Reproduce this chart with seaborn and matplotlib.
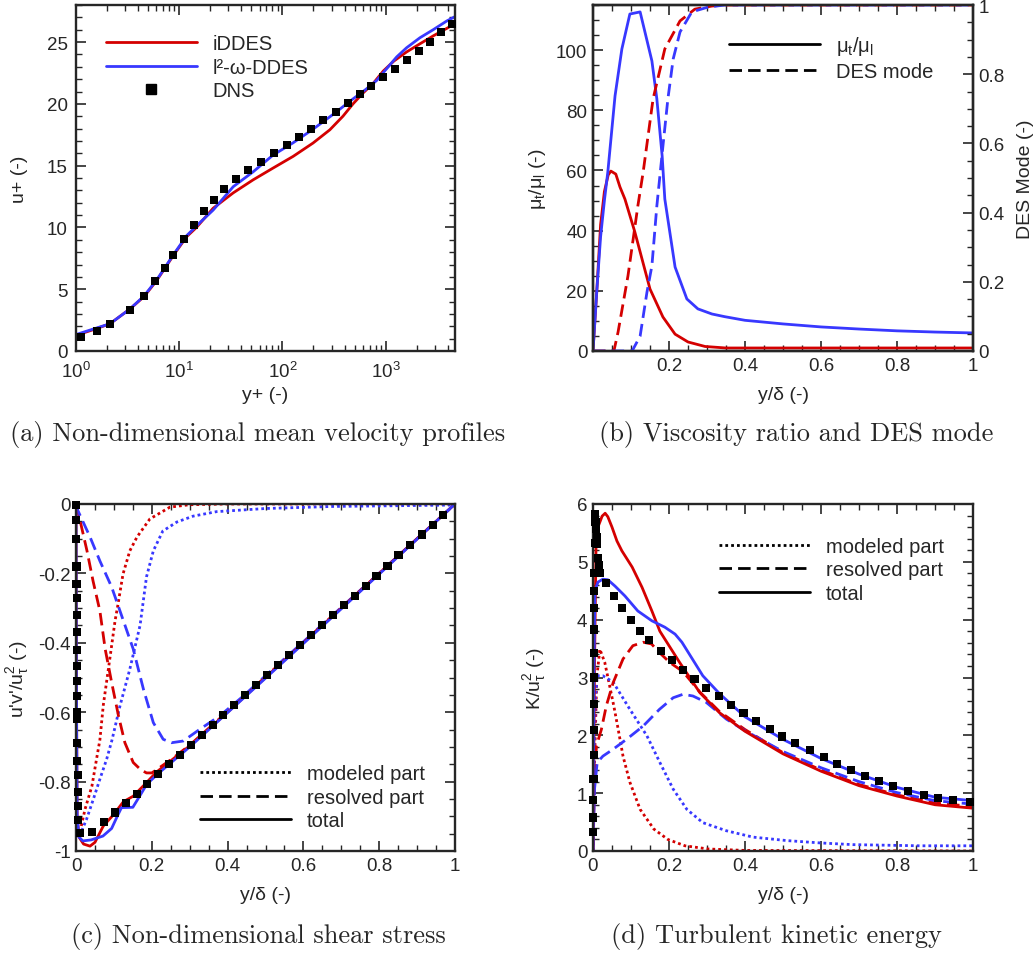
import seaborn as sns
import matplotlib
matplotlib.use('Agg')
import matplotlib.pyplot as plt
from matplotlib.lines import Line2D
from matplotlib.ticker import MultipleLocator, FuncFormatter, LogLocator

# ---------------- data ----------------
# (a) mean velocity profiles
a_dns_yp = [1.11, 1.59, 2.13, 3.33, 4.56, 5.78, 7.23, 8.7, 11.1, 13.9, 17.4, 21.7, 27.1, 35.5, 46.4, 62,
            82.8, 110, 145, 189, 245, 330, 431, 564, 715, 935, 1222, 1596, 2086, 2685, 3407, 4387]
a_dns_up = [1.11, 1.62, 2.16, 3.33, 4.44, 5.65, 6.71, 7.74, 9.06, 10.17, 11.34, 12.2, 13.1, 13.9, 14.64, 15.29,
            16.02, 16.69, 17.34, 17.97, 18.7, 19.35, 20.08, 20.81, 21.46, 22.19, 22.84, 23.57, 24.3, 25.03, 25.84, 26.49]
a_iddes_yp = [1.0, 1.5, 2.13, 3.33, 4.56, 6.05, 8.8, 11.8, 14.7, 21.3, 33.4, 52, 81, 127, 198, 288, 386, 483,
              608, 760, 947, 1200, 1596, 2150, 2890, 3900, 4700]
a_iddes_up = [1.27, 1.75, 2.2, 3.4, 4.4, 5.7, 7.75, 9.25, 10.0, 11.55, 12.8, 13.85, 14.8, 15.75, 16.83, 17.9, 19.0, 20.0,
              20.9, 21.67, 22.65, 23.46, 24.2, 24.86, 25.5, 26.1, 26.5]
a_l2w_yp = [1.0, 1.5, 2.13, 3.33, 4.56, 6.05, 8.8, 11.8, 15.9, 21.3, 33.4, 52, 81, 127, 198, 310, 483, 650,
            820, 1000, 1280, 1596, 2150, 2890, 3900, 4700]
a_l2w_up = [1.33, 1.8, 2.2, 3.4, 4.45, 5.75, 7.8, 9.33, 10.4, 11.4, 13.3, 14.5, 15.85, 16.85, 17.95, 19.15, 20.4, 21.2,
            21.9, 22.75, 23.8, 24.54, 25.35, 26.0, 26.7, 27.06]

# (b) viscosity ratio and DES mode
b_iddes_y = [0.0, 0.01, 0.02, 0.03, 0.04, 0.047, 0.06, 0.071, 0.084, 0.11, 0.15, 0.184, 0.216, 0.25, 0.295, 0.35, 0.6, 1.0]
b_iddes_mu = [0.0, 20, 42, 53, 58.5, 59.8, 58.8, 54.5, 50.5, 39.6, 20.6, 11.3, 5.6, 3.0, 1.5, 1.0, 1.0, 1.0]
b_l2w_y = [0.0, 0.01, 0.02, 0.03, 0.039, 0.058, 0.076, 0.097, 0.124, 0.155, 0.168, 0.182, 0.189, 0.216, 0.247,
           0.276, 0.313, 0.347, 0.4, 0.5, 0.6, 0.7, 0.8, 0.9, 1.0]
b_l2w_mu = [0.0, 20, 38, 50, 59.5, 84.8, 100.4, 112.0, 112.7, 96.4, 83.8, 64.8, 50.5, 27.9, 17.3,
            14.0, 12.3, 11.4, 10.2, 9.0, 8.0, 7.3, 6.7, 6.3, 6.0]
b_iddes_des_y = [0.0, 0.055, 0.066, 0.092, 0.118, 0.132, 0.158, 0.189, 0.229, 0.268, 0.313, 0.35, 1.0]
b_iddes_des = [0.0, 0.0, 0.055, 0.217, 0.419, 0.517, 0.728, 0.873, 0.954, 0.988, 0.997, 1.0, 1.0]
b_l2w_des_y = [0.0, 0.103, 0.124, 0.142, 0.155, 0.168, 0.184, 0.197, 0.211, 0.229, 0.26, 0.303, 0.347, 1.0]
b_l2w_des = [0.0, 0.0, 0.043, 0.17, 0.246, 0.419, 0.592, 0.728, 0.844, 0.922, 0.98, 0.994, 1.0, 1.0]

# (c) shear stress
c_dns_y = [0.0003, 0.0006, 0.0009, 0.0012, 0.0014, 0.0016, 0.0018, 0.002, 0.0022, 0.0024, 0.0026, 0.0028,
           0.003, 0.0032, 0.0035, 0.0038, 0.0042, 0.0046, 0.0052, 0.006, 0.011, 0.042, 0.075, 0.103, 0.132,
           0.16, 0.187, 0.216, 0.246, 0.274, 0.303, 0.332, 0.361, 0.389, 0.418, 0.447, 0.475, 0.504, 0.533,
           0.561, 0.59, 0.62, 0.649, 0.677, 0.706, 0.735, 0.764, 0.793, 0.822, 0.851, 0.881, 0.912, 0.941, 0.969]
c_dns_uv = [-0.003, -0.046, -0.1, -0.18, -0.23, -0.27, -0.32, -0.37, -0.42, -0.466, -0.51, -0.553,
            -0.6, -0.62, -0.69, -0.74, -0.78, -0.83, -0.87, -0.91, -0.947, -0.945, -0.916, -0.889, -0.862,
            -0.835, -0.807, -0.779, -0.75, -0.723, -0.695, -0.666, -0.638, -0.609, -0.58, -0.551, -0.522, -0.492, -0.464,
            -0.436, -0.407, -0.378, -0.35, -0.32, -0.291, -0.264, -0.236, -0.207, -0.178, -0.146, -0.118, -0.088, -0.06, -0.031]
c_iddes_tot_y = [0.0, 0.001, 0.003, 0.008, 0.02, 0.037, 0.05, 0.072, 0.1, 0.125, 0.151, 0.178, 0.213, 0.3,
                 0.4, 0.5, 0.6, 0.7, 0.8, 0.9, 1.0]
c_iddes_tot = [0.0, -0.5, -0.9, -0.96, -0.98, -0.986, -0.975, -0.928, -0.894, -0.858, -0.842, -0.812, -0.772, -0.697,
               -0.6, -0.5, -0.4, -0.3, -0.2, -0.1, 0.0]
c_l2w_tot_y = [0.0, 0.001, 0.003, 0.008, 0.018, 0.04, 0.071, 0.094, 0.111, 0.12, 0.15, 0.169, 0.187, 0.222, 0.3,
               0.4, 0.5, 0.6, 0.7, 0.8, 0.9, 1.0]
c_l2w_tot = [0.0, -0.5, -0.9, -0.96, -0.971, -0.968, -0.957, -0.935, -0.895, -0.875, -0.874, -0.84, -0.807, -0.772, -0.7,
             -0.601, -0.502, -0.402, -0.302, -0.202, -0.101, 0.0]
c_iddes_res_y = [0.0, 0.011, 0.029, 0.045, 0.063, 0.077, 0.094, 0.112, 0.129, 0.151, 0.17, 0.186, 0.2, 0.22, 0.25,
                 0.3, 0.4, 0.5, 0.6, 0.7, 0.8, 0.9, 1.0]
c_iddes_res = [0.0, -0.049, -0.135, -0.222, -0.308, -0.418, -0.514, -0.61, -0.688, -0.745, -0.765, -0.775, -0.775, -0.76,
               -0.737, -0.695, -0.598, -0.498, -0.399, -0.299, -0.2, -0.1, 0.0]
c_l2w_res_y = [0.0, 0.005, 0.037, 0.063, 0.094, 0.116, 0.151, 0.178, 0.204, 0.23, 0.252, 0.283, 0.327, 0.38, 0.442,
               0.5, 0.6, 0.7, 0.8, 0.9, 1.0]
c_l2w_res = [0.0, -0.019, -0.095, -0.164, -0.239, -0.308, -0.418, -0.534, -0.63, -0.678, -0.688, -0.683, -0.649, -0.61,
             -0.553, -0.495, -0.397, -0.298, -0.199, -0.1, 0.0]
c_iddes_mod_y = [0.005, 0.011, 0.024, 0.042, 0.055, 0.063, 0.072, 0.09, 0.103, 0.111, 0.124, 0.142, 0.161, 0.195,
                 0.248, 0.3, 0.4, 1.0]
c_iddes_mod = [-0.96, -0.942, -0.879, -0.813, -0.73, -0.68, -0.58, -0.44, -0.337, -0.288, -0.202, -0.135, -0.095, -0.043,
               -0.009, -0.002, 0.0, 0.0]
c_l2w_mod_y = [0.006, 0.015, 0.028, 0.046, 0.063, 0.081, 0.095, 0.116, 0.142, 0.169, 0.186, 0.204, 0.229, 0.266,
               0.309, 0.371, 0.5, 0.68, 1.0]
c_l2w_mod = [-0.955, -0.942, -0.908, -0.85, -0.793, -0.735, -0.68, -0.582, -0.476, -0.35, -0.21, -0.135, -0.078, -0.052,
             -0.035, -0.022, -0.013, -0.007, -0.003]

# (d) turbulent kinetic energy
d_dns_y = [0.0003, 0.0006, 0.0009, 0.0012, 0.0015, 0.0018, 0.0021, 0.0024, 0.0027, 0.003, 0.0033, 0.0036, 0.004,
           0.0045, 0.005, 0.0065, 0.008, 0.0095, 0.011, 0.013, 0.016, 0.018, 0.034, 0.055, 0.076, 0.1, 0.124,
           0.147, 0.178, 0.207, 0.236, 0.267, 0.298, 0.331, 0.362, 0.396, 0.43, 0.465, 0.498, 0.532, 0.57, 0.607,
           0.643, 0.678, 0.715, 0.752, 0.79, 0.83, 0.87, 0.909, 0.947, 0.991]
d_dns_k = [0.33, 0.58, 0.88, 1.24, 1.66, 2.09, 2.54, 3.0, 3.42, 3.83, 4.2, 4.5, 4.8, 5.32, 5.83, 5.69, 5.57, 5.43,
           5.31, 5.07, 4.94, 4.81, 4.63, 4.41, 4.2, 3.99, 3.8, 3.65, 3.46, 3.3, 3.13, 2.97, 2.82, 2.68, 2.53,
           2.39, 2.25, 2.11, 1.98, 1.86, 1.74, 1.63, 1.5, 1.4, 1.3, 1.21, 1.13, 1.04, 0.97, 0.92, 0.88, 0.85]
d_iddes_tot_y = [0.0, 0.002, 0.004, 0.008, 0.013, 0.024, 0.032, 0.039, 0.05, 0.063, 0.076, 0.103, 0.129, 0.155,
                 0.176, 0.228, 0.281, 0.333, 0.4, 0.5, 0.6, 0.7, 0.8, 0.9, 1.0]
d_iddes_tot = [0.0, 1.5, 3.2, 5.31, 5.6, 5.79, 5.84, 5.78, 5.6, 5.36, 5.19, 4.91, 4.56, 4.15,
               3.8, 3.26, 2.74, 2.39, 2.07, 1.68, 1.38, 1.13, 0.95, 0.8, 0.74]
d_l2w_tot_y = [0.0, 0.002, 0.005, 0.013, 0.026, 0.039, 0.058, 0.084, 0.118, 0.155, 0.189, 0.216, 0.234, 0.289,
               0.333, 0.4, 0.5, 0.6, 0.7, 0.8, 0.9, 1.0]
d_l2w_tot = [0.0, 2.8, 4.5, 4.65, 4.7, 4.69, 4.58, 4.41, 4.15, 3.98, 3.87, 3.75, 3.61, 3.03,
             2.72, 2.32, 1.93, 1.6, 1.33, 1.1, 0.93, 0.87]
d_iddes_res_y = [0.0, 0.003, 0.009, 0.022, 0.035, 0.053, 0.079, 0.105, 0.132, 0.154, 0.175, 0.202, 0.237, 0.281,
                 0.333, 0.4, 0.5, 0.6, 0.7, 0.8, 0.9, 1.0]
d_iddes_res = [0.0, 1.0, 1.82, 2.1, 2.51, 2.91, 3.32, 3.55, 3.61, 3.58, 3.43, 3.26, 3.1, 2.75,
               2.41, 2.1, 1.7, 1.4, 1.15, 0.97, 0.83, 0.77]
d_l2w_res_y = [0.0, 0.004, 0.011, 0.026, 0.053, 0.088, 0.132, 0.175, 0.211, 0.237, 0.263, 0.298, 0.351, 0.4,
               0.5, 0.6, 0.7, 0.8, 0.9, 1.0]
d_l2w_res = [0.0, 1.07, 1.53, 1.64, 1.76, 1.93, 2.16, 2.45, 2.65, 2.71, 2.68, 2.57, 2.28, 2.08,
             1.72, 1.44, 1.2, 1.01, 0.87, 0.81]
d_iddes_mod_y = [0.0, 0.004, 0.01, 0.018, 0.031, 0.044, 0.055, 0.065, 0.079, 0.097, 0.124, 0.16, 0.197, 0.242,
                 0.303, 0.4, 1.0]
d_iddes_mod = [0.0, 1.5, 3.0, 3.49, 3.26, 2.85, 2.5, 2.15, 1.64, 1.19, 0.72, 0.38, 0.2, 0.09,
               0.035, 0.01, 0.0]
d_l2w_mod_y = [0.0, 0.003, 0.006, 0.011, 0.026, 0.053, 0.097, 0.142, 0.176, 0.211, 0.247, 0.289, 0.351, 0.421,
               0.51, 0.597, 0.684, 0.86, 1.0]
d_l2w_mod = [0.0, 1.5, 2.6, 3.03, 3.03, 2.92, 2.45, 1.99, 1.53, 1.07, 0.72, 0.49, 0.35, 0.24,
             0.18, 0.14, 0.11, 0.09, 0.09]

# ---------------- style ----------------
RED = '#d40000'
BLUE = '#3838ff'
LW = 2.0
DOT = (0, (1, 1.1))
DASH = (0, (4.5, 2.2))

sns.set_style('ticks')
plt.rcParams['font.family'] = ['Liberation Sans', 'DejaVu Sans']
plt.rcParams['mathtext.fontset'] = 'custom'
plt.rcParams['mathtext.rm'] = 'Liberation Sans'
plt.rcParams['mathtext.it'] = 'Liberation Sans'
plt.rcParams['mathtext.default'] = 'regular'
plt.rcParams['axes.unicode_minus'] = False

TICK_FS = 13.5
LABEL_FS = 14
LEG_FS = 14.5


def plain(v, pos):
    v = round(v, 6)
    if v == 0:
        return '0'
    return '%g' % v


def style_axes(ax, right=True):
    for s in ax.spines.values():
        s.set_linewidth(1.7)
    ax.tick_params(which='both', direction='in', top=True, right=right, labelsize=TICK_FS, pad=4)
    ax.tick_params(which='major', length=7, width=1.2)
    ax.tick_params(which='minor', length=4, width=1.0)


def line(ax, x, y, color, ls='-'):
    sns.lineplot(x=x, y=y, ax=ax, color=color, linewidth=LW, linestyle=ls,
                 estimator=None, sort=False, legend=False)


def dns(ax, x, y):
    sns.scatterplot(x=x, y=y, ax=ax, marker='s', s=34, color='k', edgecolor='none',
                    linewidth=0, legend=False, zorder=5, clip_on=False)


def labels(ax, xl, yl):
    ax.set_xlabel(xl, fontsize=LABEL_FS)
    ax.set_ylabel(yl, fontsize=LABEL_FS)
    ax.xaxis.set_label_coords(0.5, -35 / 346)
    ax.yaxis.set_label_coords(-45 / 379, 0.5)


def legend(ax, handles, names, x, y):
    ax.legend(handles, names, loc='upper left', bbox_to_anchor=(x, y), frameon=False,
              fontsize=LEG_FS, handlelength=4.5, handletextpad=0.8, labelspacing=0.22,
              borderpad=0, borderaxespad=0)


fig = plt.figure(figsize=(10.35, 9.54), dpi=100)
W, H = 1035, 954
axa = fig.add_axes([76 / W, 1 - 352 / H, 379 / W, 346 / H])
axb = fig.add_axes([593 / W, 1 - 352 / H, 380 / W, 346 / H])
axc = fig.add_axes([76 / W, 1 - 852 / H, 379 / W, 347 / H])
axd = fig.add_axes([593 / W, 1 - 852 / H, 380 / W, 347 / H])

# ---------------- (a) ----------------
axa.set_xscale('log')
line(axa, a_iddes_yp, a_iddes_up, RED)
line(axa, a_l2w_yp, a_l2w_up, BLUE)
dns(axa, a_dns_yp, a_dns_up)
axa.set_xlim(1, 4700)
axa.set_ylim(0, 28)
axa.yaxis.set_major_locator(MultipleLocator(5))
axa.yaxis.set_minor_locator(MultipleLocator(1))
axa.yaxis.set_major_formatter(FuncFormatter(plain))
axa.xaxis.set_major_locator(LogLocator(base=10))
axa.xaxis.set_minor_locator(LogLocator(base=10, subs=range(2, 10)))
style_axes(axa)
axa.tick_params(axis='x', pad=7)
axa.tick_params(axis='y', pad=6)
labels(axa, 'y+ (-)', 'u+ (-)')
axa.yaxis.set_label_coords(-48 / 379, 0.5)
legend(axa, [Line2D([], [], color=RED, lw=LW), Line2D([], [], color=BLUE, lw=LW),
             Line2D([], [], color='k', marker='s', ls='none', markersize=6.5)],
       ['iDDES', 'l²-ω-DDES', 'DNS'], 0.079, 0.915)

# ---------------- (b) ----------------
axb2 = axb.twinx()
line(axb, b_iddes_y, b_iddes_mu, RED)
line(axb, b_l2w_y, b_l2w_mu, BLUE)
line(axb2, b_iddes_des_y, b_iddes_des, RED, DASH)
line(axb2, b_l2w_des_y, b_l2w_des, BLUE, DASH)
axb.set_xlim(0, 1)
axb.set_ylim(0, 115)
axb2.set_ylim(0, 1)
axb.xaxis.set_major_locator(MultipleLocator(0.2))
axb.xaxis.set_minor_locator(MultipleLocator(0.05))
axb.xaxis.set_major_formatter(FuncFormatter(lambda v, p: '' if abs(v) < 1e-9 else plain(v, p)))
axb.yaxis.set_major_locator(MultipleLocator(20))
axb.yaxis.set_minor_locator(MultipleLocator(5))
axb.yaxis.set_major_formatter(FuncFormatter(plain))
axb2.yaxis.set_major_locator(MultipleLocator(0.2))
axb2.yaxis.set_minor_locator(MultipleLocator(0.05))
axb2.yaxis.set_major_formatter(FuncFormatter(plain))
style_axes(axb, right=False)
for s in axb2.spines.values():
    s.set_linewidth(1.7)
axb2.tick_params(which='both', direction='in', left=False, right=True, labelsize=TICK_FS, pad=4)
axb2.tick_params(which='major', length=7, width=1.2)
axb2.tick_params(which='minor', length=4, width=1.0)
labels(axb, 'y/δ (-)', 'μ$_t$/μ$_l$ (-)')
axb2.set_ylabel('DES Mode (-)', fontsize=LABEL_FS)
axb2.yaxis.set_label_coords(1 + 44 / 380, 0.5)
legend(axb2, [Line2D([], [], color='k', lw=LW), Line2D([], [], color='k', lw=LW, ls=DASH)],
       ['μ$_t$/μ$_l$', 'DES mode'], 0.358, 0.915)

# ---------------- (c) ----------------
line(axc, c_iddes_mod_y, c_iddes_mod, RED, DOT)
line(axc, c_l2w_mod_y, c_l2w_mod, BLUE, DOT)
line(axc, c_iddes_res_y, c_iddes_res, RED, DASH)
line(axc, c_l2w_res_y, c_l2w_res, BLUE, DASH)
line(axc, c_iddes_tot_y, c_iddes_tot, RED)
line(axc, c_l2w_tot_y, c_l2w_tot, BLUE)
dns(axc, c_dns_y, c_dns_uv)
axc.set_xlim(0, 1)
axc.set_ylim(-1, 0)
axc.xaxis.set_major_locator(MultipleLocator(0.2))
axc.xaxis.set_minor_locator(MultipleLocator(0.05))
axc.yaxis.set_major_locator(MultipleLocator(0.2))
axc.yaxis.set_minor_locator(MultipleLocator(0.05))
axc.xaxis.set_major_formatter(FuncFormatter(plain))
axc.yaxis.set_major_formatter(FuncFormatter(plain))
style_axes(axc)
labels(axc, 'y/δ (-)', "u'v'/u$^2_τ$ (-)")
part_handles = [Line2D([], [], color='k', lw=LW, ls=DOT), Line2D([], [], color='k', lw=LW, ls=DASH),
                Line2D([], [], color='k', lw=LW)]
part_names = ['modeled part', 'resolved part', 'total']
legend(axc, part_handles, part_names, 0.327, 0.25)

# ---------------- (d) ----------------
line(axd, d_iddes_mod_y, d_iddes_mod, RED, DOT)
line(axd, d_l2w_mod_y, d_l2w_mod, BLUE, DOT)
line(axd, d_iddes_res_y, d_iddes_res, RED, DASH)
line(axd, d_l2w_res_y, d_l2w_res, BLUE, DASH)
line(axd, d_iddes_tot_y, d_iddes_tot, RED)
line(axd, d_l2w_tot_y, d_l2w_tot, BLUE)
dns(axd, d_dns_y, d_dns_k)
axd.set_xlim(0, 1)
axd.set_ylim(0, 6)
axd.xaxis.set_major_locator(MultipleLocator(0.2))
axd.xaxis.set_minor_locator(MultipleLocator(0.05))
axd.yaxis.set_major_locator(MultipleLocator(1))
axd.yaxis.set_minor_locator(MultipleLocator(0.2))
axd.xaxis.set_major_formatter(FuncFormatter(plain))
axd.yaxis.set_major_formatter(FuncFormatter(plain))
style_axes(axd)
labels(axd, 'y/δ (-)', 'K/u$^2_τ$ (-)')
legend(axd, part_handles, part_names, 0.332, 0.905)

# ---------------- captions ----------------
cap = dict(fontfamily='cmr10', fontsize=19, ha='center', va='center')
fig.text(258 / W, 1 - 435 / H, '(a) Non-dimensional mean velocity profiles', **cap)
fig.text(796 / W, 1 - 435 / H, '(b) Viscosity ratio and DES mode', **cap)
fig.text(258 / W, 1 - 937 / H, '(c) Non-dimensional shear stress', **cap)
fig.text(776 / W, 1 - 937 / H, '(d) Turbulent kinetic energy', **cap)

fig.savefig('out.png', dpi=100)
